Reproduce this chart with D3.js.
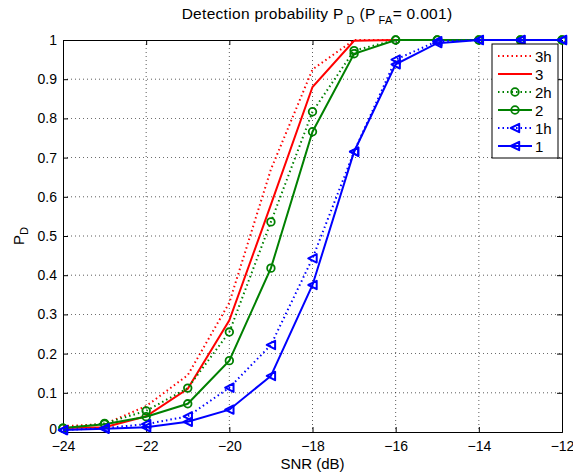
<!DOCTYPE html>
<html>
<head>
<meta charset="utf-8">
<script src="https://cdn.jsdelivr.net/npm/d3@7"></script>
<style>
  body { margin: 0; background: #fff; }
  svg { font-family: "Liberation Sans", Arial, sans-serif; }
</style>
</head>
<body>
<svg id="chart" width="573" height="474"></svg>
<script>
// SNR points (dB) and detection probability per curve
const snr = [-24, -23, -22, -21, -20, -19, -18, -17, -16, -15, -14, -13, -12];
const pd3h = [0.015, 0.02, 0.066, 0.145, 0.33, 0.67, 0.925, 1, 1, 1, 1, 1, 1];
const pd3  = [0.01, 0.012, 0.04, 0.11, 0.285, 0.58, 0.88, 0.998, 1, 1, 1, 1, 1];
const pd2h = [0.01, 0.022, 0.054, 0.112, 0.255, 0.536, 0.817, 0.973, 1, 1, 1, 1, 1];
const pd2  = [0.01, 0.02, 0.039, 0.072, 0.182, 0.418, 0.766, 0.965, 1, 1, 1, 1, 1];
const pd1h = [0.005, 0.01, 0.02, 0.04, 0.113, 0.222, 0.443, 0.715, 0.95, 0.997, 1, 1, 1];
const pd1  = [0.005, 0.008, 0.012, 0.026, 0.057, 0.143, 0.375, 0.715, 0.938, 0.992, 1, 1, 1];

const xTicks = [-24, -22, -20, -18, -16, -14, -12];
const yTicks = [0, 0.1, 0.2, 0.3, 0.4, 0.5, 0.6, 0.7, 0.8, 0.9, 1];

const series = [
  {name: '3h', values: pd3h, color: '#ff0000', dotted: true,  marker: null},
  {name: '3',  values: pd3,  color: '#ff0000', dotted: false, marker: null},
  {name: '2h', values: pd2h, color: '#008000', dotted: true,  marker: 'circle'},
  {name: '2',  values: pd2,  color: '#008000', dotted: false, marker: 'circle'},
  {name: '1h', values: pd1h, color: '#0000ff', dotted: true,  marker: 'tri'},
  {name: '1',  values: pd1,  color: '#0000ff', dotted: false, marker: 'tri'}
];

const margin = {top: 40, right: 11, bottom: 42, left: 63};
const width  = 573 - margin.left - margin.right;
const height = 474 - margin.top - margin.bottom;

const svg = d3.select('#chart');
const g = svg.append('g').attr('transform', `translate(${margin.left},${margin.top})`);

const x = d3.scaleLinear().domain([-24, -12]).range([0, width]);
const y = d3.scaleLinear().domain([0, 1]).range([height, 0]);

// grid
g.append('g').selectAll('line').data(xTicks.slice(1, -1)).enter().append('line')
  .attr('x1', d => x(d)).attr('x2', d => x(d))
  .attr('y1', 0).attr('y2', height)
  .attr('stroke', '#000').attr('stroke-width', 0.8)
  .attr('stroke-dasharray', '1,3').attr('opacity', 0.8);
g.append('g').selectAll('line').data(yTicks.slice(1, -1)).enter().append('line')
  .attr('y1', d => y(d)).attr('y2', d => y(d))
  .attr('x1', 0).attr('x2', width)
  .attr('stroke', '#000').attr('stroke-width', 0.8)
  .attr('stroke-dasharray', '1,3').attr('opacity', 0.8);

// axes (ticks inward on all sides)
const fmtX = d => d < 0 ? '\u2212' + Math.abs(d) : d;
g.append('g').attr('transform', `translate(0,${height})`)
  .call(d3.axisBottom(x).tickValues(xTicks).tickSize(-5).tickPadding(9).tickFormat(fmtX));
const yAxis = g.append('g')
  .call(d3.axisLeft(y).tickValues(yTicks).tickSize(-5).tickPadding(6).tickFormat(d3.format('')));
g.append('g').call(d3.axisTop(x).tickValues(xTicks).tickSize(-5).tickFormat(''));
g.append('g').attr('transform', `translate(${width},0)`)
  .call(d3.axisRight(y).tickValues(yTicks).tickSize(-5).tickFormat(''));

g.selectAll('.domain').attr('stroke', '#000').attr('stroke-width', 1);
g.selectAll('.tick line').attr('stroke', '#000');
g.selectAll('.tick text').attr('font-size', 14).attr('fill', '#000');
// lift the "0" label a little so it clears the x labels
yAxis.selectAll('.tick text').filter(d => d === 0).attr('dy', '0.12em');

// curves
const line = d3.line().x((d, i) => x(snr[i])).y(d => y(d));
const curves = g.append('g');

function drawMarker(sel, s, px, py) {
  if (s.marker === 'circle') {
    sel.append('circle').attr('cx', px).attr('cy', py).attr('r', 3.8)
      .attr('fill', 'none').attr('stroke', s.color).attr('stroke-width', 1.8);
  } else if (s.marker === 'tri') {
    const r = 4.2;
    sel.append('path')
      .attr('d', `M${px - r},${py}L${px + r},${py - r}L${px + r},${py + r}Z`)
      .attr('fill', 'none')
      .attr('stroke', s.color).attr('stroke-width', 2)
      .attr('stroke-linejoin', 'round');
  }
}

series.forEach(s => {
  curves.append('path').datum(s.values)
    .attr('d', line)
    .attr('fill', 'none')
    .attr('stroke', s.color)
    .attr('stroke-width', 2)
    .attr('stroke-dasharray', s.dotted ? '1.5,3' : null);
  const mk = curves.append('g');
  s.values.forEach((v, i) => drawMarker(mk, s, x(snr[i]), y(v)));
});

// legend
const lg = g.append('g').attr('transform', `translate(${width - 70},4)`);
lg.append('rect').attr('width', 66).attr('height', 114)
  .attr('fill', '#fff').attr('stroke', '#000').attr('stroke-width', 1);
series.forEach((s, i) => {
  const ly = 12 + i * 18;
  lg.append('line').attr('x1', 6).attr('x2', 40).attr('y1', ly).attr('y2', ly)
    .attr('stroke', s.color).attr('stroke-width', 2)
    .attr('stroke-dasharray', s.dotted ? '1.5,3' : null);
  drawMarker(lg, s, 23, ly);
  lg.append('text').attr('x', 43).attr('y', ly + 5.5)
    .attr('font-size', 15).text(s.name);
});

// title
const title = svg.append('text').attr('x', 317).attr('y', 19)
  .attr('text-anchor', 'middle').attr('font-size', 15.5)
  .attr('letter-spacing', 0.3);
title.append('tspan').text('Detection probability P');
title.append('tspan').attr('font-size', 11).attr('dx', 3).attr('dy', 5).text('D');
title.append('tspan').attr('dy', -5).text(' (P');
title.append('tspan').attr('font-size', 11).attr('dx', 3).attr('dy', 5).text('FA');
title.append('tspan').attr('dy', -5).text('= 0.001)');

// axis labels
svg.append('text').attr('x', margin.left + width / 2).attr('y', 469)
  .attr('text-anchor', 'middle').attr('font-size', 15).text('SNR (dB)');
const yl = svg.append('text').attr('transform', `translate(24,${margin.top + height / 2}) rotate(-90)`)
  .attr('text-anchor', 'middle').attr('font-size', 15);
yl.append('tspan').text('P');
yl.append('tspan').attr('font-size', 11).attr('dy', 4).text('D');
</script>
</body>
</html>
